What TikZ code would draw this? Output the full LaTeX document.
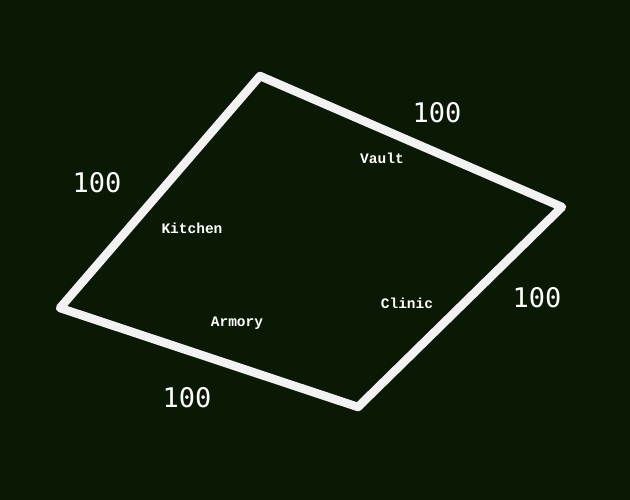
\documentclass[tikz,border=0pt]{standalone}
\usepackage{fontspec}
\newfontfamily\numfont{DejaVu Sans Mono}
\newfontfamily\roomfont{Liberation Mono}
\definecolor{bgdark}{HTML}{0A1903}
\definecolor{wallwhite}{HTML}{F2F2F2}
\tikzset{
	wall/.style={draw=wallwhite, line width=8.5pt, line join=round, line cap=round},
	weight/.style={text=white, font=\numfont\fontsize{27}{27}\selectfont},
	room/.style={text=white, font=\roomfont\bfseries\fontsize{14.5}{15}\selectfont}
}
\begin{document}
\begin{tikzpicture}[x=1pt, y=-1pt]
	
	% Background
	\fill[bgdark] (0,0) rectangle (630,500);
	\useasboundingbox (0,0) rectangle (630,500);
	
	% Corners
	\coordinate (top) at (260,76);
	\coordinate (right) at (562,207);
	\coordinate (bottom) at (358,407);
	\coordinate (left) at (60,308);
	
	% Walls
	\draw[wall] (top) -- (right) -- (bottom) -- (left) -- cycle;
	
	% Edge weights
	\node[weight] (wtr) at (437,113) {100};
	\node[weight] (wtl) at (97,183) {100};
	\node[weight] (wbr) at (537,298) {100};
	\node[weight] (wbl) at (187,398) {100};
	
	% Rooms
	\node[room] (kitchen) at (192,228) {Kitchen};
	\node[room] (vault) at (382,158) {Vault};
	\node[room] (clinic) at (407,303) {Clinic};
	\node[room] (armory) at (237,323) {Armory};
	
\end{tikzpicture}
\end{document}
